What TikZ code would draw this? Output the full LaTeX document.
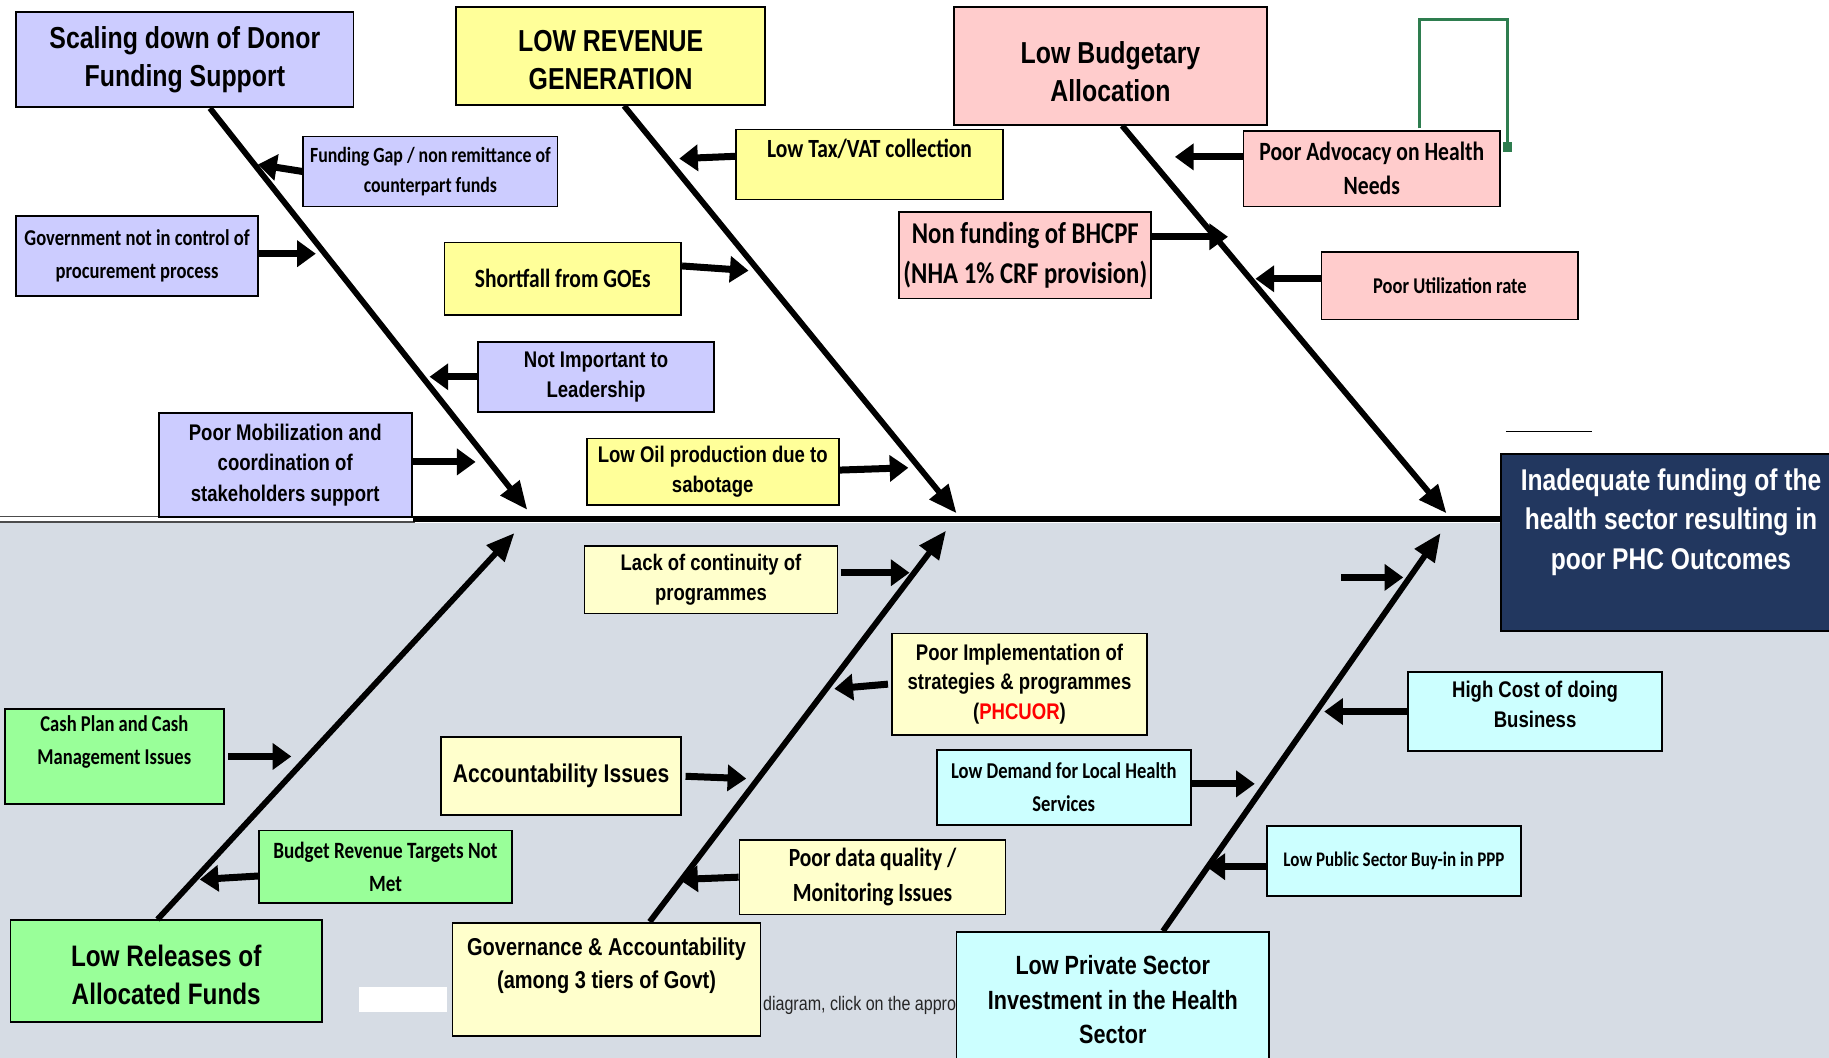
\documentclass[tikz,border=0pt]{standalone}
\usepackage{fontspec}
\usetikzlibrary{arrows.meta}
\newfontfamily\arialn{Liberation Sans}[FakeStretch=0.82]
\newfontfamily\calib{Carlito}[FakeStretch=0.82]
\newcommand\fa[2]{\arialn\bfseries\fontsize{#1}{#2}\selectfont}
\newcommand\fc[2]{\calib\bfseries\fontsize{#1}{#2}\selectfont}
\definecolor{lav}{HTML}{CCCCFF}
\definecolor{ylw}{HTML}{FFFF99}
\definecolor{pnk}{HTML}{FFCCCC}
\definecolor{lyl}{HTML}{FFFFCC}
\definecolor{grn}{HTML}{99FF99}
\definecolor{cyn}{HTML}{CCFFFF}
\definecolor{navy}{HTML}{22375F}
\definecolor{bgc}{HTML}{D6DCE4}
\definecolor{brk}{HTML}{2E7D4F}
\begin{document}
\begin{tikzpicture}[x=1pt,y=-1pt,
  box/.style={draw,line width=1.5pt,inner sep=0pt,align=center},
  bone/.style={line width=5pt,-{Triangle[length=24pt,width=20pt]}},
  arr/.style={line width=6pt,-{Triangle[length=16pt,width=22pt]}}]
\useasboundingbox (0,0) rectangle (1568,907);
% background
\fill[bgc] (0,448) rectangle (1568,907);
\draw[line width=1.2pt,black!70] (0,443) -- (356,443);
\draw[line width=1.2pt,black!70] (0,447.5) -- (356,447.5);
\draw[line width=1.2pt] (1291,370) -- (1365,370);
% green bracket
\draw[brk,line width=2.5pt] (1217,110) -- (1217,17) -- (1292,17) -- (1292,126);
\fill[brk] (1288.5,122) rectangle (1296,130);
% white patch
\fill[white] (308,846) rectangle (383,868);
% stray text
\node[anchor=base west,inner sep=0pt,text=black!85,font=\arialn\fontsize{16.8}{20}\selectfont] (stray) at (654,866) {diagram, click on the appropriate};

% nodes - top
\node[box,fill=lav,minimum width=289pt,minimum height=82pt,font=\fa{26}{33}] (donor) at (158.5,51) {Scaling down of Donor\\Funding Support};
\node[box,fill=ylw,minimum width=265pt,minimum height=84pt,font=\fa{26}{33}] (rev) at (523.5,48) {\mbox{}\\[-8pt]LOW REVENUE\\GENERATION};
\node[box,fill=pnk,minimum width=268pt,minimum height=101pt,font=\fa{26}{33}] (budg) at (952,56.5) {\mbox{}\\[-4pt]Low Budgetary\\Allocation};
\node[box,fill=lav,minimum width=218pt,minimum height=60pt,font=\fc{18.6}{26}] (fgap) at (369,147) {Funding Gap / non remittance of\\counterpart funds};
\node[box,fill=lav,minimum width=207pt,minimum height=69pt,font=\fc{19.4}{28}] (govt) at (117.5,219.5) {Government not in control of\\procurement process};
\node[box,fill=lav,minimum width=202pt,minimum height=60pt,font=\fa{19.4}{26}] (notimp) at (511,323) {Not Important to\\Leadership};
\node[box,fill=lav,minimum width=217pt,minimum height=89pt,font=\fa{19.4}{26}] (mobil) at (244.5,398.5) {Poor Mobilization and\\coordination of\\stakeholders support};
\node[box,fill=ylw,minimum width=229pt,minimum height=60pt,font=\fc{22.5}{28}] (tax) at (745.5,141) {Low Tax/VAT collection\\\mbox{}};
\node[box,fill=ylw,minimum width=203pt,minimum height=62pt,font=\fc{22.5}{28}] (goes) at (482.5,239) {Shortfall from GOEs};
\node[box,fill=ylw,minimum width=216pt,minimum height=57pt,font=\fa{19.4}{26}] (oil) at (611,404.5) {Low Oil production due to\\sabotage};
\node[box,fill=pnk,minimum width=216pt,minimum height=74pt,font=\fc{25.9}{34}] (bhcpf) at (879,219) {Non funding of BHCPF\\(NHA 1\% CRF provision)};
\node[box,fill=pnk,minimum width=220pt,minimum height=65pt,font=\fc{22.6}{29}] (advoc) at (1176,144.5) {Poor Advocacy on Health\\Needs};
\node[box,fill=pnk,minimum width=220pt,minimum height=58pt,font=\fc{19.3}{26}] (util) at (1243,245) {Poor Utilization rate};
\node[box,fill=navy,text=white,minimum width=291pt,minimum height=152pt,font=\fa{25.7}{34}] (head) at (1432.5,465) {Inadequate funding of the\\health sector resulting in\\poor PHC Outcomes\\[6pt]\mbox{}};

% nodes - bottom
\node[box,fill=grn,minimum width=267pt,minimum height=87pt,font=\fa{25.4}{33}] (lowrel) at (142.5,832.5) {\mbox{}\\[-8pt]Low Releases of\\Allocated Funds};
\node[box,fill=grn,minimum width=188pt,minimum height=81pt,font=\fc{19.4}{28}] (cash) at (98,648.5) {Cash Plan and Cash\\Management Issues\\\mbox{}};
\node[box,fill=grn,minimum width=217pt,minimum height=62pt,font=\fc{20}{28}] (budrev) at (330.5,743) {Budget Revenue Targets Not\\Met};
\node[box,fill=lyl,minimum width=264pt,minimum height=97pt,font=\fa{20.9}{28}] (gov) at (520,839.5) {Governance \& Accountability\\(among 3 tiers of Govt)\\\mbox{}};
\node[box,fill=lyl,minimum width=206pt,minimum height=67pt,font=\fa{22}{28}] (acc) at (481,665.5) {Accountability Issues};
\node[box,fill=lyl,minimum width=217pt,minimum height=58pt,font=\fa{19.3}{26}] (lack) at (609.5,497) {Lack of continuity of\\programmes};
\node[box,fill=lyl,minimum width=218pt,minimum height=87pt,font=\fa{19.4}{25.5}] (impl) at (874,586.5) {Poor Implementation of\\strategies \& programmes\\(\textcolor{red}{PHCUOR})};
\node[box,fill=lyl,minimum width=228pt,minimum height=64pt,font=\fc{22.5}{30}] (data) at (748,752) {Poor data quality /\\Monitoring Issues};
\node[box,fill=cyn,minimum width=268pt,minimum height=116pt,font=\fa{22.6}{29.5}] (priv) at (954,857) {Low Private Sector\\Investment in the Health\\Sector};
\node[box,fill=cyn,minimum width=218pt,minimum height=64pt,font=\fc{19.4}{28}] (demand) at (912,675) {Low Demand for Local Health\\Services};
\node[box,fill=cyn,minimum width=218pt,minimum height=68pt,font=\fa{19.4}{26}] (cost) at (1316,610) {High Cost of doing\\Business\\[-14pt]\mbox{}};
\node[box,fill=cyn,minimum width=218pt,minimum height=60pt,font=\fc{17.8}{24}] (ppp) at (1195,738) {Low Public Sector Buy-in in PPP};

% spine
\coordinate (spL) at (mobil.east |- 0,445);
\coordinate (spR) at (head.west |- 0,445);
\draw[line width=5pt] (spL) -- (spR);

% bones
\coordinate (t1) at (452,437);
\coordinate (t2) at (820,440);
\coordinate (t3) at (1240,440);
\coordinate (b1) at (441,457);
\coordinate (b2) at (811,455);
\coordinate (b3) at (1235,457);
\draw[bone] ([xshift=21.5pt]donor.south) -- (t1);
\draw[bone] ([xshift=11.5pt]rev.south) -- (t2);
\draw[bone] ([xshift=10pt]budg.south) -- (t3);
\draw[bone] ([xshift=-7.5pt]lowrel.north) -- (b1);
\draw[bone] ([xshift=37pt]gov.north) -- (b2);
\draw[bone] ([xshift=43pt]priv.north) -- (b3);

% small arrows
\draw[arr] (fgap.west) -- ++(-38,-6);
\draw[arr] ([yshift=2pt]govt.east) -- ++(49,0);
\draw[arr] (notimp.west) -- ++(-41,0);
\draw[arr] ([yshift=2.5pt]mobil.east) -- ++(54,0);
\draw[arr] ([yshift=7pt]tax.west) -- ++(-48,2);
\draw[arr] ([yshift=11pt]goes.east) -- ++(57,4);
\draw[arr] ([yshift=1.5pt]oil.east) -- ++(59,-2);
\draw[arr] ([yshift=16pt]bhcpf.east) -- ++(65,0);
\draw[arr] ([yshift=10pt]advoc.west) -- ++(-58,0);
\draw[arr] ([yshift=6pt]util.west) -- ++(-56,0);
\draw[arr] ([xshift=3pt]cash.east) -- ++(54,0);
\draw[arr] ([yshift=-8pt]budrev.west) -- ++(-50,3);
\draw[arr] ([xshift=3pt]acc.east) -- ++(52,2);
\draw[arr] ([xshift=2pt,yshift=6pt]lack.east) -- ++(59,0);
\draw[arr] ([xshift=-3pt]impl.west) -- ++(-46,4);
\draw[arr] (data.west) -- ++(-51,2);
\draw[arr] ([yshift=3pt]demand.east) -- ++(54,0);
\draw[arr] (cost.west) -- ++(-71,0);
\draw[arr] ([yshift=-5pt]ppp.west) -- ++(-51,0);
\coordinate (s1) at (1150,495);
\coordinate (s2) at (1203,495);
\draw[arr] (s1) -- (s2);
\end{tikzpicture}
\end{document}
